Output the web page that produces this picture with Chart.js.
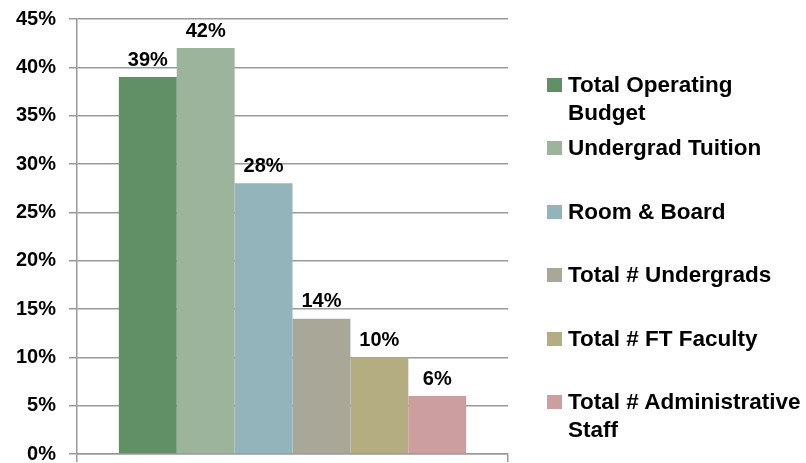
<!DOCTYPE html>
<html>
<head>
<meta charset="utf-8">
<script src="https://cdn.jsdelivr.net/npm/chart.js@4"></script>
<style>
  html, body { margin:0; padding:0; background:#fff; }
  #wrap { position:relative; width:806px; height:463px; }
  #legenda { position:absolute; left:547px; top:0; font:bold 22.5px "Liberation Sans", Arial, sans-serif; color:#000; }
  .item { position:absolute; left:0; width:259px; line-height:28px; }
  .item .cx { position:absolute; left:0; top:7px; width:15px; height:14px; }
  .item .tx { position:absolute; left:21px; top:0; width:250px; white-space:nowrap; }
</style>
</head>
<body>
<div id="wrap">
  <canvas id="grafico" width="806" height="463"></canvas>
  <div id="legenda"></div>
</div>
<script>
const categorias = [''];
const series = ['Total Operating Budget', 'Undergrad Tuition', 'Room & Board', 'Total # Undergrads', 'Total # FT Faculty', 'Total # Administrative Staff'];
const legendaLinhas = [['Total Operating', 'Budget'], ['Undergrad Tuition'], ['Room & Board'], ['Total # Undergrads'], ['Total # FT Faculty'], ['Total # Administrative', 'Staff']];
const valores = [39, 42, 28, 14, 10, 6];
const cores = ['#618f66', '#9cb49b', '#94b4bc', '#a9a798', '#b5ad82', '#cc9ea0'];

const fonte = { family: '"Liberation Sans", Arial, sans-serif', size: 20, weight: 'bold' };

// rótulos em cima das barras
const rotulos = {
  id: 'rotulos',
  afterDatasetsDraw(chart) {
    const ctx = chart.ctx;
    ctx.save();
    ctx.font = 'bold 20px "Liberation Sans", Arial, sans-serif';
    ctx.fillStyle = '#000';
    ctx.textAlign = 'center';
    ctx.textBaseline = 'bottom';
    chart.data.datasets.forEach((ds, i) => {
      const bar = chart.getDatasetMeta(i).data[0];
      ctx.fillText(ds.data[0] + '%', bar.x, bar.y - 7);
    });
    ctx.restore();
  }
};

new Chart(document.getElementById('grafico'), {
  type: 'bar',
  data: {
    labels: categorias,
    datasets: series.map((s, i) => ({
      label: s,
      data: [valores[i]],
      backgroundColor: cores[i],
      categoryPercentage: 0.806,
      barPercentage: 1
    }))
  },
  options: {
    responsive: false,
    animation: false,
    layout: { padding: { left: 3, right: 298, top: 19, bottom: 1 } },
    plugins: { legend: { display: false }, tooltip: { enabled: false } },
    scales: {
      x: {
        ticks: { display: false },
        grid: { drawOnChartArea: false, color: '#9a9a9a', lineWidth: 1.5, tickLength: 8 },
        border: { color: '#9a9a9a', width: 1.5 }
      },
      y: {
        min: 0, max: 45,
        ticks: { stepSize: 5, color: '#000', font: fonte, padding: 13, callback: v => v + '%' },
        grid: { color: '#9a9a9a', lineWidth: 1.5, tickLength: 8 },
        border: { color: '#9a9a9a', width: 1.5 },
        afterFit: s => { s.paddingTop = 0; s.paddingBottom = 0; }
      }
    }
  },
  plugins: [rotulos]
});

const leg = document.getElementById('legenda');
legendaLinhas.forEach((linhas, i) => {
  const d = document.createElement('div');
  d.className = 'item';
  d.style.top = (71 + i * 63.4) + 'px';
  d.innerHTML = `<div class="cx" style="background:${cores[i]}"></div><div class="tx">${linhas.map(l => l.replace('&', '&amp;')).join('<br>')}</div>`;
  leg.appendChild(d);
});
</script>
</body>
</html>
